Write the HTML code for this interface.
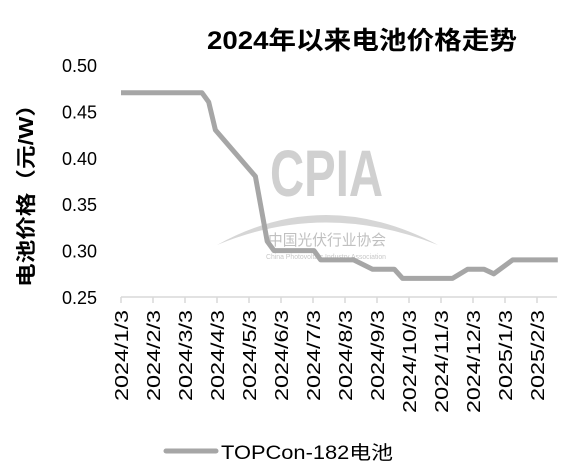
<!DOCTYPE html>
<html><head><meta charset="utf-8"><style>
html,body{margin:0;padding:0;background:#fff;}
svg{display:block;font-family:"Liberation Sans","Noto Sans CJK SC",sans-serif;}
</style></head><body>
<svg id="chart" width="582" height="473" viewBox="0 0 582 473">
  <text x="207" y="49" font-size="25" font-weight="bold" fill="#000" textLength="310" lengthAdjust="spacingAndGlyphs">2024年以来电池价格走势</text>
  <text transform="translate(33,287) rotate(-90)" font-size="20" font-weight="bold" fill="#000" textLength="194" lengthAdjust="spacingAndGlyphs">电池价格（元/W）</text>
  <g>
    <text x="270" y="196" font-size="66" font-weight="bold" fill="#d0d0d0" textLength="113" lengthAdjust="spacingAndGlyphs">CPIA</text>
    <path d="M217,245 Q325,185 438,245 Q325,200 217,245Z" fill="#d6d6d6"/>
    <text x="268" y="245" font-size="15" fill="#c0c0c0" textLength="118" lengthAdjust="spacingAndGlyphs">中国光伏行业协会</text>
    <text x="266" y="259" font-size="7" fill="#c8c8c8" textLength="120" lengthAdjust="spacingAndGlyphs">China Photovoltaic Industry Association</text>
  </g>
  <g id="axes"></g>
  <g id="series"></g>
  <g>
    <line x1="166" y1="451" x2="216" y2="451" stroke="#a6a6a6" stroke-width="5" stroke-linecap="round"/>
    <text x="221" y="459" font-size="19" fill="#000" textLength="172" lengthAdjust="spacingAndGlyphs">TOPCon-182电池</text>
  </g>
</svg>
<script>
const monthLabels = ["2024/1/3","2024/2/3","2024/3/3","2024/4/3","2024/5/3","2024/6/3","2024/7/3","2024/8/3","2024/9/3","2024/10/3","2024/11/3","2024/12/3","2025/1/3","2025/2/3"];
const yTicks = [0.25,0.30,0.35,0.40,0.45,0.50];
// time in months since 2024/1/3
const seriesT = [0,2.53,2.74,2.95,4.2,4.57,4.78,6.03,6.24,7.27,7.86,8.54,8.8,10.36,10.83,11.34,11.65,12.24,13.65];
const seriesV = [0.47,0.47,0.46,0.43,0.38,0.31,0.30,0.30,0.29,0.29,0.28,0.28,0.27,0.27,0.28,0.28,0.275,0.29,0.29];

const X0=121, MW=32.0, Y0=297, YTOP=65;
const xs = t => X0 + t*MW;
const ys = v => Y0 - (v-0.25)/(0.25)*(Y0-YTOP);
const NS="http://www.w3.org/2000/svg";
const axes=document.getElementById('axes');
const mk=(tag,attrs,parent)=>{const e=document.createElementNS(NS,tag);for(const k in attrs)e.setAttribute(k,attrs[k]);parent.appendChild(e);return e;};

const xl=mk('line',{x1:X0,y1:Y0,x2:557,y2:Y0,stroke:'#d9d9d9','stroke-width':1.5},axes);



monthLabels.forEach((lab,i)=>{
  const x=xs(i);
  const tk=mk('line',{x1:x,y1:Y0,x2:x,y2:Y0+6,stroke:'#d9d9d9','stroke-width':1.5},axes);
  
  
  const len = lab.length*11.4;
  const t=mk('text',{transform:`translate(${x+7},310) rotate(-90)`,'text-anchor':'end','font-size':18,fill:'#000',textLength:len.toFixed(0),lengthAdjust:'spacingAndGlyphs'},axes);
  t.textContent=lab;
  
  
});
yTicks.forEach(v=>{
  const t=mk('text',{x:97,y:ys(v)+7,'text-anchor':'end','font-size':18,fill:'#000'},axes);
  t.textContent=v.toFixed(2);
  
  
});
const pts=seriesT.map((t,i)=>xs(t).toFixed(1)+','+ys(seriesV[i]).toFixed(1)).join(' ');
const pl=mk('polyline',{points:pts,fill:'none',stroke:'#a6a6a6','stroke-width':5,'stroke-linejoin':'round'},document.getElementById('series'));


</script>
</body></html>
